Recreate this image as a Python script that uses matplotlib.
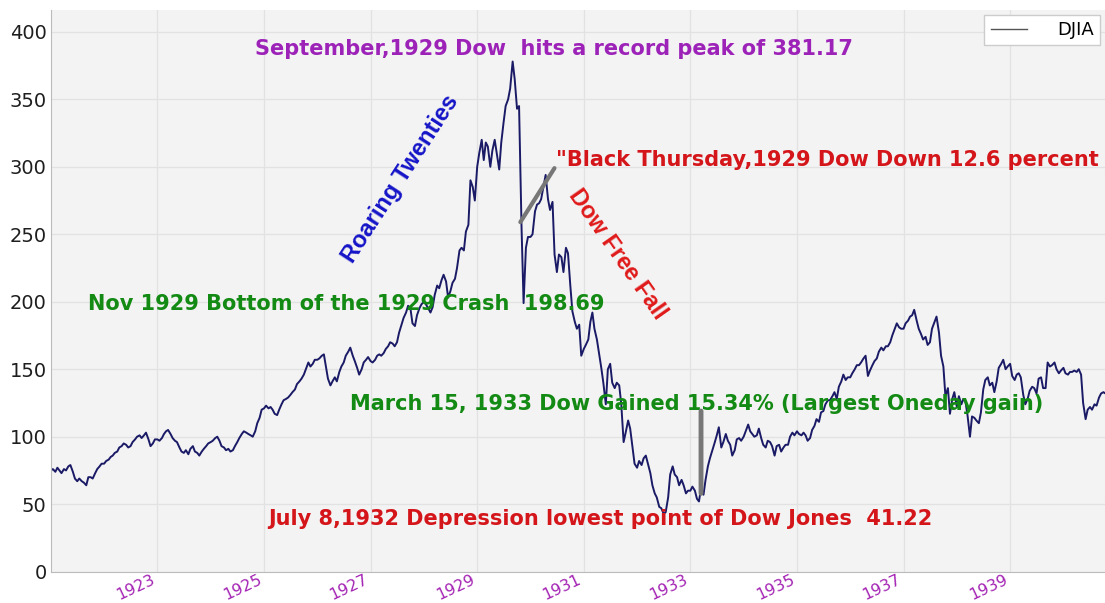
import numpy as np
import pandas as pd
import matplotlib
matplotlib.use("Agg")
import matplotlib.pyplot as plt

# DJIA closes, 1st and 15th of every month from Jan 1921
djia = [
    # 1921
    75, 76, 74, 77, 75, 73, 76, 75, 78, 79, 74, 69, 67, 69, 67, 66, 64, 70, 70, 69, 73, 76, 78, 80,
    # 1922
    80, 82, 83, 85, 86, 88, 89, 92, 93, 95, 94, 92, 93, 96, 98, 100, 101, 99, 101, 103, 98, 93, 95, 98,
    # 1923
    98, 97, 99, 102, 104, 105, 102, 99, 97, 96, 92, 89, 88, 90, 87, 91, 93, 89, 88, 86, 89, 91, 93, 95,
    # 1924
    96, 97, 99, 100, 97, 93, 92, 90, 91, 89, 90, 93, 96, 99, 102, 104, 103, 102, 101, 100, 104, 110, 114, 120,
    # 1925
    121, 123, 121, 122, 120, 117, 116, 120, 124, 127, 128, 129, 131, 133, 135, 139, 141, 143, 146, 150, 155, 152, 154, 157,
    # 1926
    157, 158, 160, 161, 152, 143, 138, 141, 144, 141, 148, 152, 155, 160, 163, 166, 160, 156, 151, 146, 150, 155, 157, 159,
    # 1927
    156, 155, 157, 160, 161, 160, 162, 165, 167, 170, 169, 167, 170, 177, 183, 188, 192, 197, 195, 184, 182, 190, 195, 198,
    # 1928
    200, 198, 195, 192, 196, 205, 212, 210, 216, 220, 215, 203, 208, 214, 217, 225, 238, 240, 238, 252, 257, 290, 285, 275,
    # 1929
    300, 310, 320, 305, 318, 315, 300, 312, 320, 310, 298, 318, 333, 345, 350, 358, 378, 365, 343, 345, 255, 199, 240, 248,
    # 1930
    248, 250, 267, 272, 273, 276, 286, 294, 276, 268, 274, 235, 222, 235, 233, 222, 240, 236, 212, 193, 185, 180, 183, 160,
    # 1931
    165, 168, 172, 185, 192, 180, 172, 162, 151, 140, 124, 150, 154, 140, 136, 140, 138, 124, 96, 103, 112, 106, 92, 80,
    # 1932
    77, 82, 79, 84, 86, 80, 73, 64, 58, 55, 48, 47, 43, 44, 55, 72, 78, 72, 70, 64, 68, 64, 58, 60,
    # 1933
    60, 63, 60, 54, 52, 62, 57, 68, 78, 84, 90, 95, 101, 107, 92, 96, 102, 97, 94, 86, 90, 98, 99, 97,
    # 1934
    100, 104, 109, 104, 102, 100, 101, 106, 99, 94, 92, 97, 96, 93, 86, 93, 94, 89, 92, 94, 94, 100, 103, 101,
    # 1935
    104, 102, 101, 103, 101, 97, 99, 105, 108, 113, 111, 118, 119, 124, 127, 127, 130, 133, 128, 137, 141, 146, 142, 144,
    # 1936
    144, 147, 150, 153, 153, 155, 158, 160, 145, 149, 153, 156, 158, 163, 166, 164, 167, 167, 170, 175, 180, 184, 181, 180,
    # 1937
    180, 184, 186, 189, 190, 194, 186, 180, 176, 172, 174, 168, 170, 180, 185, 189, 177, 160, 152, 130, 136, 117, 128, 133,
    # 1938
    122, 130, 124, 128, 126, 116, 100, 115, 114, 112, 110, 118, 135, 142, 144, 138, 140, 133, 141, 151, 154, 157, 150, 152,
    # 1939
    154, 145, 142, 146, 147, 144, 131, 124, 128, 134, 137, 136, 132, 143, 144, 136, 136, 155, 152, 153, 155, 150, 147, 149,
    # 1940
    151, 147, 146, 148, 148, 149, 148, 150, 146, 125, 113, 120, 122, 120, 124, 123, 129, 132, 133, 132, 133, 134,
]

dates = pd.date_range("1921-01-01", periods=len(djia), freq="SMS")
years = dates.year + (dates.dayofyear - 1) / 365.25

tick_years = [1923, 1925, 1927, 1929, 1931, 1933, 1935, 1937, 1939]
y_ticks = [0, 50, 100, 150, 200, 250, 300, 350, 400]

fig = plt.figure(figsize=(11.05, 6.03), dpi=100)
ax = fig.add_axes([0.046, 0.052, 0.954, 0.931])
ax.set_facecolor("#f3f3f3")

ax.plot(years, djia, color="#1a1a66", lw=1.4, label="DJIA")

ax.set_xlim(1921.0, 1940.78)
ax.set_ylim(0, 416)
ax.set_xticks(tick_years)
ax.set_xticklabels([str(y) for y in tick_years], rotation=25, ha="right",
                   color="#a424b4", fontsize=11.5)
ax.set_yticks(y_ticks)
ax.tick_params(axis="y", labelsize=14, colors="#1e1e1e", length=0, pad=3)
ax.tick_params(axis="x", length=0, pad=0)
ax.grid(True, color="#e2e2e2", lw=0.9)
for s in ["top", "right"]:
    ax.spines[s].set_visible(False)
for s in ["left", "bottom"]:
    ax.spines[s].set_color("#bbbbbb")

bold = dict(fontweight="bold", fontsize=15, va="center")
ax.text(1924.84, 387, "September,1929 Dow  hits a record peak of 381.17", color="#9c22b8", **bold)
ax.text(1921.7, 198, "Nov 1929 Bottom of the 1929 Crash  198.69", color="#138a13", **bold)
ax.text(1926.62, 124, "March 15, 1933 Dow Gained 15.34% (Largest Oneday gain)", color="#138a13", **bold)
ax.text(1925.08, 39, "July 8,1932 Depression lowest point of Dow Jones  41.22", color="#d4151a", **bold)
ax.text(1930.47, 305, '"Black Thursday,1929 Dow Down 12.6 percent', color="#d4151a", **bold)

# pointer lines
ax.annotate("", xy=(1929.81, 259), xytext=(1930.45, 299),
            arrowprops=dict(arrowstyle="-", color="#777777", lw=3, shrinkA=0, shrinkB=0))
ax.annotate("", xy=(1933.2, 58), xytext=(1933.2, 119),
            arrowprops=dict(arrowstyle="-", color="#777777", lw=3.5, shrinkA=0, shrinkB=0))

cond = ["Liberation Sans Narrow", "Liberation Sans", "DejaVu Sans"]
ax.text(1927.56, 291, "Roaring Twenties", color="#1515c8", fontsize=17, fontweight="bold",
        family=cond, rotation=57, ha="center", va="center")
ax.text(1931.63, 235, "Dow Free Fall", color="#e01a1a", fontsize=17, fontweight="bold",
        family=cond, rotation=-55, ha="center", va="center")

leg = ax.legend(loc="upper right", fontsize=13, frameon=True, fancybox=False,
                handlelength=2.0, handletextpad=1.7, borderpad=0.35, borderaxespad=0.25)
leg.get_frame().set_edgecolor("#cccccc")
leg.get_frame().set_facecolor("white")
leg.get_frame().set_alpha(1)
leg.get_lines()[0].set_color("#555555")
leg.get_lines()[0].set_linewidth(1.0)

fig.savefig("out.png", dpi=100)
